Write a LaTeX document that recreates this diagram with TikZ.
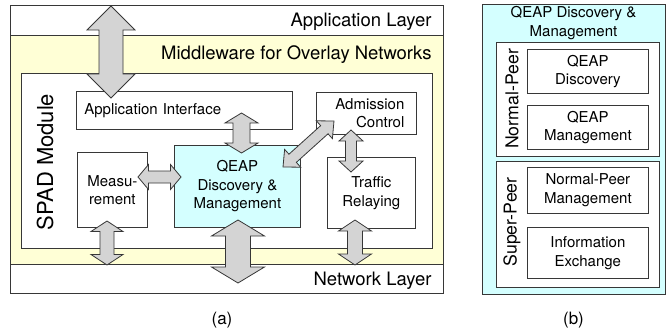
\documentclass[tikz,border=0pt]{standalone}
\usepackage{fontspec}
\setmainfont{TeX Gyre Heros}
\usetikzlibrary{calc}
\definecolor{mwyellow}{RGB}{255,255,214}
\definecolor{qcyan}{RGB}{212,255,255}
\definecolor{arrgray}{RGB}{212,212,212}
\definecolor{edge}{RGB}{55,55,55}
\newcommand{\fatarrow}[5]{%
  \path ($(#1)!#5!(#2)$) coordinate (p) ($(#2)!#5!(#1)$) coordinate (q);
  \draw[fatarrow] (#1) -- ($(p)!#4!90:(#2)$) -- ($(p)!#3!90:(#2)$)
    -- ($(q)!#3!90:(#2)$) -- ($(q)!#4!90:(#2)$) -- (#2)
    -- ($(q)!#4!-90:(#2)$) -- ($(q)!#3!-90:(#2)$)
    -- ($(p)!#3!-90:(#2)$) -- ($(p)!#4!-90:(#2)$) -- cycle;}
\begin{document}
\begin{tikzpicture}[x=1pt,y=-1pt,thick,
  box/.style={draw=edge,fill=white,anchor=north west,inner sep=0pt,
    align=center,font=\fontsize{15}{18.5}\selectfont},
  layer/.style={anchor=base east,inner sep=0pt,font=\fontsize{18.5}{22}\selectfont},
  side/.style={rotate=90,inner sep=0pt,font=\fontsize{17.7}{21}\selectfont},
  fatarrow/.style={draw=edge,fill=arrgray,line join=miter},
  sublbl/.style={inner sep=0pt,font=\fontsize{17}{20}\selectfont}]
\useasboundingbox (0,0) rectangle (666,334);
\node[box,minimum width=433pt,minimum height=30pt] (app) at (10,5) {};
\node[box,fill=mwyellow,minimum width=433pt,minimum height=229pt] (mw) at (10,35) {};
\node[box,minimum width=433pt,minimum height=29pt] (net) at (10,264) {};
\node[layer] (applbl) at (432,27) {Application Layer};
\node[layer] (mwlbl) at (432,60) {Middleware for Overlay Networks};
\node[layer] (netlbl) at (432,285) {Network Layer};
\node[box,minimum width=411pt,minimum height=175pt] (spad) at (21,73) {};
\node[side,font=\fontsize{22}{26}\selectfont] (spadlbl) at (45,162) {SPAD Module};
\node[box,minimum width=216pt,minimum height=38pt,text width=200pt,align=left] (appif) at (76,91) {Application Interface};
\node[box,minimum width=100pt,minimum height=42pt,text width=76pt,align=right] (adm) at (316,92) {Admission\\Control};
\node[box,minimum width=70pt,minimum height=75pt] (meas) at (77,152) {Measu-\\rement};
\node[box,fill=qcyan,minimum width=126pt,minimum height=82pt] (qeap) at (174,145) {QEAP\\Discovery \&\\Management};
\node[box,minimum width=88pt,minimum height=71pt] (traffic) at (327,157) {Traffic\\Relaying};
\coordinate (t1a) at (111,6);     \coordinate (t1b) at (111,98);
\coordinate (t2a) at (241.5,113); \coordinate (t2b) at (241.5,153);
\coordinate (t3a) at (138,177);   \coordinate (t3b) at (181,177);
\coordinate (t4a) at (107,221);   \coordinate (t4b) at (107,265);
\coordinate (t5a) at (238,220);   \coordinate (t5b) at (238,283);
\coordinate (t6a) at (351,130);   \coordinate (t6b) at (351,172);
\coordinate (t7a) at (355,220);   \coordinate (t7b) at (355,265);
\coordinate (t8a) at (283,167);   \coordinate (t8b) at (334,121);
\fatarrow{t1a}{t1b}{12pt}{24pt}{24pt}
\fatarrow{t2a}{t2b}{8.5pt}{16.5pt}{10pt}
\fatarrow{t3a}{t3b}{6pt}{12.5pt}{10.5pt}
\fatarrow{t4a}{t4b}{7pt}{16pt}{10.5pt}
\fatarrow{t5a}{t5b}{12.5pt}{26.5pt}{16pt}
\fatarrow{t6a}{t6b}{5.5pt}{12pt}{11pt}
\fatarrow{t7a}{t7b}{7.5pt}{16.5pt}{11pt}
\fatarrow{t8a}{t8b}{5.5pt}{12pt}{13pt}
\node[sublbl] (capa) at (222,320) {(a)};
\node[box,fill=qcyan,minimum width=183pt,minimum height=290pt] (qbox) at (482,4) {};
\node[font=\fontsize{15}{18.5}\selectfont,align=center,inner sep=0pt] (qtitle) at (573.5,23) {QEAP Discovery \&\\Management};
\node[box,minimum width=163pt,minimum height=114pt] (np) at (496,42) {};
\node[box,minimum width=163pt,minimum height=126pt] (sp) at (496,161) {};
\node[side] (nplbl) at (512,99) {Normal-Peer};
\node[side] (splbl) at (512,222) {Super-Peer};
\node[box,minimum width=121pt,minimum height=44pt] (qd) at (527,49) {QEAP\\Discovery};
\node[box,minimum width=121pt,minimum height=44pt] (qm) at (527,105) {QEAP\\Management};
\node[box,minimum width=121pt,minimum height=46pt] (npm) at (527,167) {Normal-Peer\\Management};
\node[box,minimum width=121pt,minimum height=51pt] (ie) at (527,227) {Information\\Exchange};
\node[sublbl] (capb) at (573.5,320) {(b)};
\end{tikzpicture}
\end{document}
